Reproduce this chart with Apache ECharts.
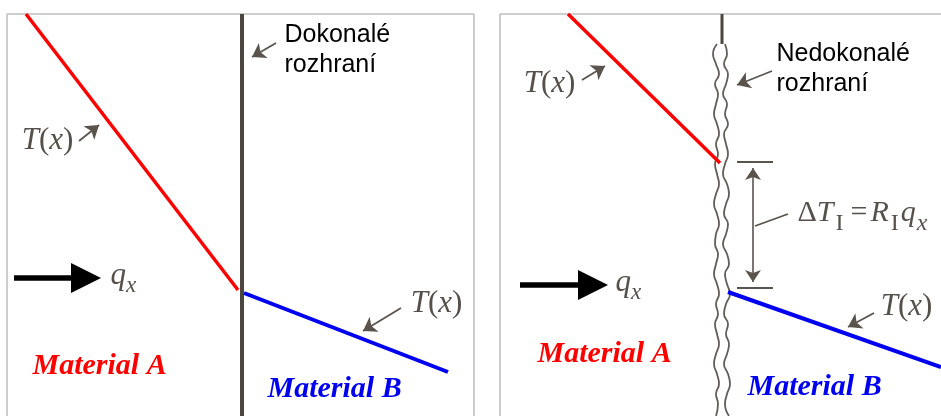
<!DOCTYPE html>
<html>
<head>
<meta charset="utf-8">
<script src="https://cdn.jsdelivr.net/npm/echarts@6/dist/echarts.min.js"></script>
<style>
html,body{margin:0;padding:0;background:#fff;}
#c{width:941px;height:416px;}
</style>
</head>
<body>
<div id="c"></div>
<script>
// ---- diagram data (coordinates in the diagram's own x / y units) ----
const frameSegments = [
  [[7,14],[474,14]], [[7,14],[7,416]], [[474,14],[474,416]],
  [[500,14],[941,14]], [[500,14],[500,416]]
];
const perfectInterface = [[242,14],[242,416]];
const redProfileA = [[26,14],[238,290]];
const blueProfileA = [[244,293],[448,372]];
const redProfileB = [[568,14],[720,163]];
const blueProfileB = [[728,292],[941,367]];
const imperfectStem = [[722,14],[722,44]];
const waveY      = [44,54,64,74,84,94,104,114,124,134,144,154,164,174,184,194,204,214,224,234,244,254,264,274,284,294,304,314,324,334,344,354,364,374,384,394,404,416];
const waveLeftX  = [717,713,716,719,715,718,716,714,717,719,716,718,715,717,719,716,714,717,719,716,715,718,716,714,717,719,716,718,715,717,719,716,714,717,719,716,718,716];
const waveRightX = [725,727,724,728,726,723,727,725,728,724,726,728,725,723,727,729,726,724,728,726,723,727,729,725,727,730,726,724,728,726,729,727,724,728,730,727,725,729];
const pointerArrows = [
  [[79,141],[99,125]],
  [[276,43],[252,57]],
  [[401,308],[363,331]],
  [[582,80],[605,66]],
  [[772,71],[737,85]],
  [[874,313],[848,327]]
];
const dimensionArrow = [[753,168],[753,282]];
const dimensionTicks = [[[737,162],[773,162]], [[737,288],[773,288]]];
const dimensionLeader = [[755,226],[788,214]];
const fluxArrows = [[[14,278],[86,278]], [[520,285],[593,285]]];
const interfaceLabels = ['Dokonalé\nrozhraní', 'Nedokonalé\nrozhraní'];
const interfaceLabelPos = [[285,51],[777,70]];
const tLabelPos = [[48,141],[437,304],[550,84],[907,307]];
const materialLabels = ['Material A','Material B','Material A','Material B'];
const materialLabelPos = [[33,367],[268,390],[538,355],[748,388]];
const fluxLabelPos = [[111,276],[616,283]];
const formulaPos = [[798,214]];

// ---- styles ----
const GRAY = '#55504a';
const PTR = '#5a544c';
const RED = '#ff0000';
const BLUE = '#0000f0';
const SERIF = '"Liberation Serif", "DejaVu Serif", serif';
const SANS = '"Liberation Sans", Arial, sans-serif';

const mathRich = {
  it: {fontFamily: SERIF, fontStyle: 'italic', fontSize: 31, color: GRAY},
  up: {fontFamily: SERIF, fontSize: 31, color: GRAY},
  fit: {fontFamily: SERIF, fontStyle: 'italic', fontSize: 30, color: GRAY},
  fup: {fontFamily: SERIF, fontSize: 30, color: GRAY},
  feq: {fontFamily: SERIF, fontSize: 30, color: GRAY, padding: [0,3,0,5]},
  subIt: {fontFamily: SERIF, fontStyle: 'italic', fontSize: 23, color: GRAY, padding: [20,0,0,0]},
  fsubIt: {fontFamily: SERIF, fontStyle: 'italic', fontSize: 24, color: GRAY, padding: [20,0,0,1]},
  subUp: {fontFamily: SERIF, fontSize: 24, color: GRAY, padding: [20,2,0,2]}
};

function lineSeries(points, color, width, extra) {
  return Object.assign({
    type: 'line', data: points, showSymbol: false, symbol: 'none', silent: true,
    animation: false, lineStyle: {color: color, width: width}, z: 3
  }, extra || {});
}
function segs(list) { return list.map(s => ({coords: s})); }
function textItem(pos, label) {
  return {value: pos, label: Object.assign({show: true, position: [0,0]}, label)};
}

const textData = [];
interfaceLabels.forEach((t, i) => textData.push(textItem(interfaceLabelPos[i], {
  formatter: t, align: 'left', verticalAlign: 'middle', fontFamily: SANS,
  fontSize: 25, lineHeight: 30, color: '#000'
})));
tLabelPos.forEach(p => textData.push(textItem(p, {
  formatter: '{it|T}{up|(}{it|x}{up|)}', align: 'center', verticalAlign: 'middle', rich: mathRich
})));
materialLabels.forEach((t, i) => textData.push(textItem(materialLabelPos[i], {
  formatter: t, align: 'left', verticalAlign: 'middle', fontFamily: SERIF,
  fontStyle: 'italic', fontWeight: 'bold', fontSize: 30,
  color: t.slice(-1) === 'A' ? RED : BLUE
})));
fluxLabelPos.forEach(p => textData.push(textItem(p, {
  formatter: '{it|q}{subIt|x}', align: 'left', verticalAlign: 'middle', rich: mathRich
})));
formulaPos.forEach(p => textData.push(textItem(p, {
  formatter: '{fup|Δ}{fit|T}{subUp|I}{feq|=}{fit|R}{subUp|I}{fit|q}{fsubIt|x}',
  align: 'left', verticalAlign: 'middle', rich: mathRich
})));

const option = {
  backgroundColor: '#fff',
  animation: false,
  grid: {left: 0, right: 0, top: 0, bottom: 0},
  xAxis: {type: 'value', min: 0, max: 941, show: false},
  yAxis: {type: 'value', min: 0, max: 416, inverse: true, show: false},
  series: [
    {type: 'lines', coordinateSystem: 'cartesian2d', silent: true, symbol: 'none',
     lineStyle: {color: '#bdbdbd', width: 1.5, opacity: 1}, data: segs(frameSegments), z: 1},
    lineSeries(perfectInterface, '#4b463f', 4),
    lineSeries(imperfectStem, '#4b463f', 3),
    lineSeries(waveY.map((y, i) => [waveLeftX[i], y]), '#625d56', 1.8, {smooth: true}),
    lineSeries(waveY.map((y, i) => [waveRightX[i], y]), '#625d56', 1.8, {smooth: true}),
    lineSeries(redProfileA, RED, 3.5, {z: 4}),
    lineSeries(blueProfileA, BLUE, 4, {z: 4}),
    lineSeries(redProfileB, RED, 3.5, {z: 4}),
    lineSeries(blueProfileB, BLUE, 4, {z: 4}),
    {type: 'lines', coordinateSystem: 'cartesian2d', silent: true,
     symbol: ['none','arrow'], symbolSize: 13,
     lineStyle: {color: PTR, width: 1.8, opacity: 1}, data: segs(pointerArrows), z: 5},
    {type: 'lines', coordinateSystem: 'cartesian2d', silent: true,
     symbol: ['arrow','arrow'], symbolSize: 12,
     lineStyle: {color: PTR, width: 1.6, opacity: 1}, data: segs([dimensionArrow]), z: 5},
    {type: 'lines', coordinateSystem: 'cartesian2d', silent: true, symbol: 'none',
     lineStyle: {color: PTR, width: 1.8, opacity: 1}, data: segs(dimensionTicks.concat([dimensionLeader])), z: 5},
    {type: 'lines', coordinateSystem: 'cartesian2d', silent: true,
     symbol: ['none','triangle'], symbolSize: 30,
     lineStyle: {color: '#000', width: 5.5, opacity: 1}, data: segs(fluxArrows), z: 5},
    {type: 'scatter', silent: true, symbolSize: 1,
     itemStyle: {color: 'rgba(0,0,0,0)', opacity: 1},
     data: textData, z: 6}
  ]
};
const chart = echarts.init(document.getElementById('c'));
chart.setOption(option);
</script>
</body>
</html>
